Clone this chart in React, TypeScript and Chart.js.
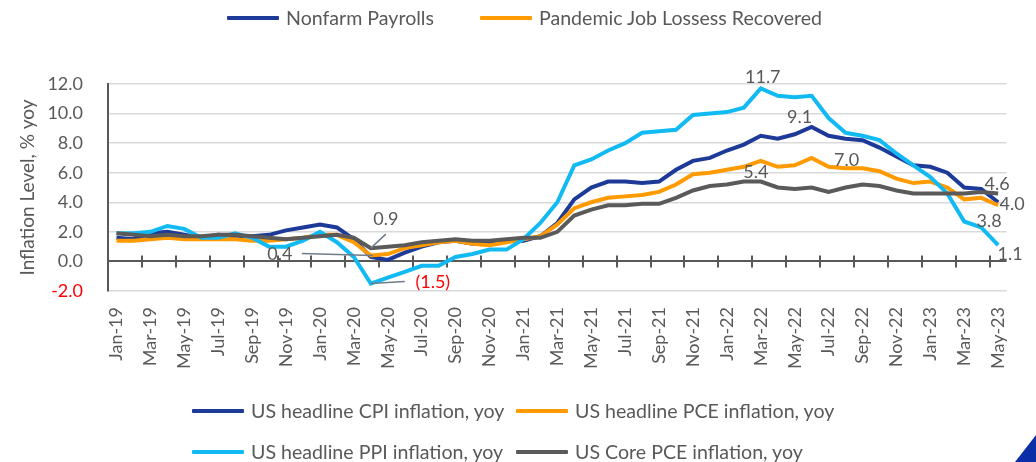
import React, { useEffect, useRef } from 'react';
import { Chart, registerables } from 'chart.js';

Chart.register(...registerables);

const months = [
  'Jan-19', 'Feb-19', 'Mar-19', 'Apr-19', 'May-19', 'Jun-19', 'Jul-19', 'Aug-19', 'Sep-19', 'Oct-19', 'Nov-19', 'Dec-19',
  'Jan-20', 'Feb-20', 'Mar-20', 'Apr-20', 'May-20', 'Jun-20', 'Jul-20', 'Aug-20', 'Sep-20', 'Oct-20', 'Nov-20', 'Dec-20',
  'Jan-21', 'Feb-21', 'Mar-21', 'Apr-21', 'May-21', 'Jun-21', 'Jul-21', 'Aug-21', 'Sep-21', 'Oct-21', 'Nov-21', 'Dec-21',
  'Jan-22', 'Feb-22', 'Mar-22', 'Apr-22', 'May-22', 'Jun-22', 'Jul-22', 'Aug-22', 'Sep-22', 'Oct-22', 'Nov-22', 'Dec-22',
  'Jan-23', 'Feb-23', 'Mar-23', 'Apr-23', 'May-23',
];

const cpi = [
  1.6, 1.5, 1.9, 2.0, 1.8, 1.6, 1.8, 1.7, 1.7, 1.8, 2.1, 2.3,
  2.5, 2.3, 1.5, 0.3, 0.1, 0.6, 1.0, 1.3, 1.4, 1.2, 1.2, 1.4,
  1.4, 1.7, 2.6, 4.2, 5.0, 5.4, 5.4, 5.3, 5.4, 6.2, 6.8, 7.0,
  7.5, 7.9, 8.5, 8.3, 8.6, 9.1, 8.5, 8.3, 8.2, 7.7, 7.1, 6.5,
  6.4, 6.0, 5.0, 4.9, 4.0,
];

const pce = [
  1.4, 1.4, 1.5, 1.6, 1.5, 1.5, 1.5, 1.5, 1.4, 1.4, 1.5, 1.6,
  1.8, 1.8, 1.3, 0.4, 0.5, 0.9, 1.1, 1.3, 1.4, 1.2, 1.1, 1.3,
  1.5, 1.7, 2.5, 3.6, 4.0, 4.3, 4.4, 4.5, 4.7, 5.2, 5.9, 6.0,
  6.2, 6.4, 6.8, 6.4, 6.5, 7.0, 6.4, 6.3, 6.3, 6.1, 5.6, 5.3,
  5.4, 5.0, 4.2, 4.3, 3.8,
];

const ppi = [
  1.9, 1.9, 2.0, 2.4, 2.2, 1.6, 1.6, 1.9, 1.6, 1.0, 1.0, 1.4,
  2.0, 1.3, 0.3, -1.5, -1.1, -0.7, -0.3, -0.3, 0.3, 0.5, 0.8, 0.8,
  1.5, 2.6, 4.0, 6.5, 6.9, 7.5, 8.0, 8.7, 8.8, 8.9, 9.9, 10.0,
  10.1, 10.4, 11.7, 11.2, 11.1, 11.2, 9.7, 8.7, 8.5, 8.2, 7.3, 6.5,
  5.7, 4.6, 2.7, 2.3, 1.1,
];

const corePce = [
  1.9, 1.8, 1.7, 1.8, 1.7, 1.7, 1.8, 1.8, 1.7, 1.6, 1.5, 1.6,
  1.7, 1.8, 1.6, 0.9, 1.0, 1.1, 1.3, 1.4, 1.5, 1.4, 1.4, 1.5,
  1.6, 1.6, 2.0, 3.1, 3.5, 3.8, 3.8, 3.9, 3.9, 4.3, 4.8, 5.1,
  5.2, 5.4, 5.4, 5.0, 4.9, 5.0, 4.7, 5.0, 5.2, 5.1, 4.8, 4.6,
  4.6, 4.6, 4.6, 4.7, 4.6,
];

const seriesNames = [
  'US headline CPI inflation, yoy',
  'US headline PCE inflation, yoy',
  'US headline PPI inflation, yoy',
  'US Core PCE inflation, yoy',
];
const topLegendNames = ['Nonfarm Payrolls', 'Pandemic Job Lossess Recovered'];

const yTitle = 'Inflation Level, % yoy';
const yMin = -2;
const yMax = 12;
const yStep = 2;

const FONT = 'Lato, "Open Sans", sans-serif';
const TEXT = '#595959';
const RED = '#FF0000';
const COLORS = ['#1D3A98', '#FF9A00', '#12BAF3', '#5A5A5A'];

// value labels: dataset index, point index, drawing offsets
const valueLabels = [
  { ds: 3, i: 15, dx: 15, dy: -29, color: TEXT, lead: [0, 0, 15, -14] },
  { ds: 1, i: 15, dx: -91, dy: -1, color: TEXT, lead: [-69, -2, 2, 0] },
  { ds: 2, i: 15, dx: 62, dy: -1, color: RED, lead: [0, 0, 34, -2] },
  { ds: 2, i: 38, dx: 2, dy: -11, color: TEXT },
  { ds: 0, i: 41, dx: -12, dy: -10, color: TEXT },
  { ds: 1, i: 41, dx: 35, dy: 2, color: TEXT },
  { ds: 3, i: 37, dx: 12, dy: -9, color: TEXT },
  { ds: 3, i: 52, dx: -1, dy: -9, color: TEXT },
  { ds: 0, i: 52, dx: 14, dy: 2, color: TEXT },
  { ds: 1, i: 52, dx: -9, dy: 16, color: TEXT },
  { ds: 2, i: 52, dx: 12, dy: 9, color: TEXT },
];

const zeroAxisPlugin = {
  id: 'zeroAxis',
  beforeDatasetsDraw(chart: any) {
    const { ctx, scales } = chart;
    const x = scales.x;
    const y = scales.y;
    const y0 = y.getPixelForValue(0);
    ctx.save();
    ctx.strokeStyle = '#595959';
    ctx.lineWidth = 2;
    ctx.beginPath();
    for (let i = 1; i < months.length - 1; i += 2) {
      const px = Math.round((x.getPixelForValue(i) + x.getPixelForValue(i + 1)) / 2);
      ctx.moveTo(px, y0 - 6);
      ctx.lineTo(px, y0 + 6);
    }
    ctx.stroke();
    ctx.restore();
  },
};

const valueLabelPlugin = {
  id: 'valueLabels',
  afterDatasetsDraw(chart: any) {
    const { ctx } = chart;
    ctx.save();
    ctx.font = `18px ${FONT}`;
    ctx.textAlign = 'center';
    ctx.textBaseline = 'middle';
    for (const l of valueLabels) {
      const pt = chart.getDatasetMeta(l.ds).data[l.i];
      const v = chart.data.datasets[l.ds].data[l.i] as number;
      if (l.lead) {
        ctx.strokeStyle = '#6F7C8C';
        ctx.lineWidth = 1.5;
        ctx.beginPath();
        ctx.moveTo(pt.x + l.lead[0], pt.y + l.lead[1]);
        ctx.lineTo(pt.x + l.lead[2], pt.y + l.lead[3]);
        ctx.stroke();
      }
      const txt = v < 0 ? `(${Math.abs(v).toFixed(1)})` : v.toFixed(1);
      ctx.fillStyle = l.color;
      ctx.fillText(txt, pt.x + l.dx, pt.y + l.dy);
    }
    ctx.restore();
  },
};

function LegendItem({ left, top, color, text }: { left: number; top: number; color: string; text: string }) {
  return (
    <div
      style={{
        position: 'absolute',
        left,
        top: top - 12,
        height: 24,
        display: 'flex',
        alignItems: 'center',
        whiteSpace: 'nowrap',
      }}
    >
      <div style={{ width: 52, height: 4, background: color, marginRight: 7, borderRadius: 1 }} />
      <span style={{ fontFamily: FONT, fontSize: 19.6, color: TEXT, lineHeight: '24px' }}>{text}</span>
    </div>
  );
}

export default function App() {
  const canvasRef = useRef<HTMLCanvasElement | null>(null);

  useEffect(() => {
    if (!canvasRef.current) return;
    const mk = (label: string, data: number[], color: string, order: number) => ({
      label,
      data,
      borderColor: color,
      backgroundColor: color,
      borderWidth: 4,
      pointRadius: 0,
      tension: 0,
      fill: false,
      order,
    });
    const chart = new Chart(canvasRef.current, {
      type: 'line',
      data: {
        labels: months,
        datasets: [
          mk(seriesNames[0], cpi, COLORS[0], 3),
          mk(seriesNames[1], pce, COLORS[1], 2),
          mk(seriesNames[2], ppi, COLORS[2], 1),
          mk(seriesNames[3], corePce, COLORS[3], 0),
        ],
      },
      options: {
        animation: false,
        responsive: false,
        devicePixelRatio: 1,
        layout: { padding: { left: 16, right: 26, top: 84, bottom: 91 } },
        plugins: {
          legend: { display: false },
          tooltip: { enabled: false },
        },
        scales: {
          x: {
            type: 'category',
            offset: true,
            grid: { display: false, drawTicks: false },
            border: { display: false },
            ticks: {
              autoSkip: false,
              minRotation: 90,
              maxRotation: 90,
              padding: 16,
              color: TEXT,
              font: { family: FONT, size: 18 },
              callback: (_v: any, i: number) => (i % 2 === 0 ? months[i] : null),
            },
            afterFit: (s: any) => {
              s.height = 80;
            },
          },
          y: {
            min: yMin,
            max: yMax,
            grid: {
              drawTicks: false,
              color: (c: any) => (c.tick && c.tick.value === 0 ? '#595959' : '#D9D9D9'),
              lineWidth: (c: any) => (c.tick && c.tick.value === 0 ? 2 : 1.5),
            },
            border: { display: true, color: '#595959', width: 2 },
            ticks: {
              stepSize: yStep,
              padding: 25,
              color: (c: any) => (c.tick && c.tick.value < 0 ? RED : TEXT),
              font: { family: FONT, size: 18 },
              callback: (v: any) => Number(v).toFixed(1),
            },
            title: {
              display: true,
              text: yTitle,
              color: TEXT,
              font: { family: FONT, size: 19 },
              padding: 0,
            },
            afterFit: (s: any) => {
              s.width = 92;
            },
          },
        },
      },
      plugins: [zeroAxisPlugin, valueLabelPlugin],
    });
    return () => chart.destroy();
  }, []);

  return (
    <div style={{ position: 'absolute', left: 0, top: 0, width: 1036, height: 462, overflow: 'hidden', background: '#fff' }}>
      <canvas ref={canvasRef} width={1036} height={462} style={{ position: 'absolute', left: 0, top: 0 }} />
      <LegendItem left={227} top={18} color={COLORS[0]} text={topLegendNames[0]} />
      <LegendItem left={480} top={18} color={COLORS[1]} text={topLegendNames[1]} />
      <LegendItem left={192} top={411} color={COLORS[0]} text={seriesNames[0]} />
      <LegendItem left={516} top={411} color={COLORS[1]} text={seriesNames[1]} />
      <LegendItem left={192} top={452} color={COLORS[2]} text={seriesNames[2]} />
      <LegendItem left={516} top={452} color={COLORS[3]} text={seriesNames[3]} />
      <div
        style={{
          position: 'absolute',
          left: 1015,
          top: 435,
          width: 21,
          height: 27,
          background: '#0A2EA5',
          clipPath: 'polygon(0 100%, 100% 0, 100% 100%)',
        }}
      />
    </div>
  );
}
